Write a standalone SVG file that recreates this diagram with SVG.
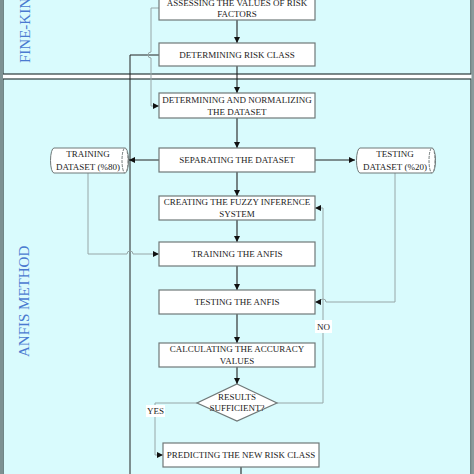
<svg xmlns="http://www.w3.org/2000/svg" width="474" height="474" viewBox="0 0 474 474">
<defs>
<marker id="ah" markerUnits="userSpaceOnUse" markerWidth="8" markerHeight="8" refX="6" refY="3" orient="auto">
<path d="M0,0 L6,3 L0,6 Z" fill="#111"/>
</marker>
<style>
.panel{fill:#d9fbfd;stroke:#2a3a3a;stroke-width:1.2}
.box{fill:#fff;stroke:#6f7878;stroke-width:1.2}
.cyl{fill:#fff;stroke:#6f7878;stroke-width:1}
.t{font-family:"Liberation Serif","Times New Roman",serif;font-size:9px;fill:#222;text-anchor:middle}
.lab{font-family:"Liberation Serif","Times New Roman",serif;font-size:15px;fill:#4a7ad0}
.main{fill:none;stroke:#222;stroke-width:1.1}
.gray{fill:none;stroke:#97a6a7;stroke-width:1}
.dark{fill:none;stroke:#222;stroke-width:1}
</style>
</defs>
<rect x="0" y="0" width="474" height="474" fill="#ffffff"/>
<rect class="panel" x="3" y="-5" width="468" height="79"/>
<rect class="panel" x="3" y="79" width="468" height="400"/>
<rect x="0" y="0" width="3" height="474" fill="#7d9192"/>
<rect x="471.5" y="0" width="2.5" height="474" fill="#8a9b9c"/>
<text class="lab" transform="translate(30,63) rotate(-90)">FINE-KINNEY</text>
<text class="lab" transform="translate(29,357) rotate(-90)">ANFIS METHOD</text>

<g id="connectors">
<path class="main" d="M237,20 V43" marker-end="url(#ah)"/>
<path class="main" d="M237,66 V93" marker-end="url(#ah)"/>
<path class="main" d="M237,118 V148" marker-end="url(#ah)"/>
<path class="main" d="M237,172 V196" marker-end="url(#ah)"/>
<path class="main" d="M237,220 V242" marker-end="url(#ah)"/>
<path class="main" d="M237,266 V290" marker-end="url(#ah)"/>
<path class="main" d="M237,314 V343" marker-end="url(#ah)"/>
<path class="main" d="M237,367 V384" marker-end="url(#ah)"/>
<path class="main" d="M241,467 V474"/>
<path class="dark" d="M159,55 H130 V474"/>
<path class="gray" d="M159,8 H151 V52 A3,3 0 0 0 151,58 V106 H159" marker-end="url(#ah)"/>
<path class="dark" d="M159,160 H129" marker-end="url(#ah)"/>
<path class="dark" d="M315,160 H355" marker-end="url(#ah)"/>
<path class="gray" d="M88,173 V254 H127 A3,3 0 0 1 133,254 H159" marker-end="url(#ah)"/>
<path class="gray" d="M395,173 V302 H326 A3,3 0 0 0 320,302 H315" marker-end="url(#ah)"/>
<path class="gray" d="M277,403 H323 V208 H315" marker-end="url(#ah)"/>
<path class="gray" d="M197,403 H155 V455 H163" marker-end="url(#ah)"/>
<rect x="315" y="320" width="17" height="13" fill="#fff"/>
<text class="t" x="323.5" y="330">NO</text>
<rect x="146" y="405" width="19" height="12" fill="#fff"/>
<text class="t" x="155.5" y="414">YES</text>
</g>

<g id="n1"><rect class="box" x="159" y="-10" width="156" height="30"/>
<text class="t" x="237" y="6">ASSESSING THE VALUES OF RISK</text><text class="t" x="237" y="17">FACTORS</text></g>
<g id="n2"><rect class="box" x="159" y="43" width="156" height="23"/>
<text class="t" x="237" y="57.5">DETERMINING RISK CLASS</text></g>
<g id="n3"><rect class="box" x="159" y="93" width="156" height="25"/>
<text class="t" x="237" y="103">DETERMINING AND NORMALIZING</text><text class="t" x="237" y="115">THE DATASET</text></g>
<g id="n4"><rect class="box" x="159" y="148" width="156" height="24"/>
<text class="t" x="237" y="163">SEPARATING THE DATASET</text></g>
<g id="n5"><rect class="box" x="159" y="196" width="156" height="24"/>
<text class="t" x="237" y="205">CREATING THE FUZZY INFERENCE</text><text class="t" x="237" y="217">SYSTEM</text></g>
<g id="n6"><rect class="box" x="159" y="242" width="156" height="24"/>
<text class="t" x="237" y="257">TRAINING THE ANFIS</text></g>
<g id="n7"><rect class="box" x="159" y="290" width="156" height="24"/>
<text class="t" x="237" y="305">TESTING THE ANFIS</text></g>
<g id="n8"><rect class="box" x="159" y="343" width="156" height="24"/>
<text class="t" x="237" y="352">CALCULATING THE ACCURACY</text><text class="t" x="237" y="364">VALUES</text></g>
<g id="n9"><path class="box" d="M237,384 L277,403 L237,421 L197,403 Z"/>
<text class="t" x="237" y="400">RESULTS</text><text class="t" x="237" y="411">SUFFICIENT?</text></g>
<g id="n10"><rect class="box" x="163" y="443" width="156" height="24"/>
<text class="t" x="241" y="458">PREDICTING THE NEW RISK CLASS</text></g>
<g id="n11"><path class="cyl" d="M54,148 H125 A3.5,12.5 0 0 1 125,173 H54 A3.5,12.5 0 0 1 54,148 Z"/>
<ellipse class="cyl" cx="125" cy="160.5" rx="3" ry="12.5" stroke-dasharray="3,1"/>
<text class="t" x="88" y="157">TRAINING</text><text class="t" x="88" y="170">DATASET (%80)</text></g>
<g id="n12"><path class="cyl" d="M360,148 H432 A3.5,12.5 0 0 1 432,173 H360 A3.5,12.5 0 0 1 360,148 Z"/>
<ellipse class="cyl" cx="432" cy="160.5" rx="3" ry="12.5" stroke-dasharray="3,1"/>
<text class="t" x="395" y="157">TESTING</text><text class="t" x="395" y="170">DATASET (%20)</text></g>
</svg>
